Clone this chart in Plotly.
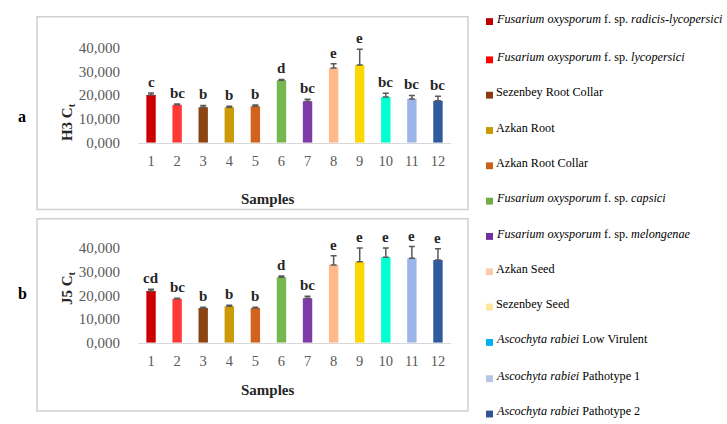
import plotly.graph_objects as go

W, H = 727, 424

samples = [str(i) for i in range(1, 13)]
h3_values = [20100, 16000, 14900, 14900, 15300, 26300, 17400, 31400, 32700, 19200, 18400, 17700]
h3_errors = [800, 300, 800, 400, 600, 300, 900, 1800, 6600, 1600, 1500, 1800]
h3_letters = ["c", "bc", "b", "b", "b", "d", "bc", "e", "e", "bc", "bc", "bc"]

j5_values = [21800, 18500, 14600, 15400, 14600, 27600, 18800, 32800, 34200, 36100, 35600, 34900]
j5_errors = [800, 300, 400, 400, 400, 500, 800, 3900, 5800, 3900, 5000, 4800]
j5_letters = ["cd", "bc", "b", "b", "b", "d", "bc", "e", "e", "e", "e", "e"]

bar_colors = ["#CC0000", "#FF3838", "#8B4513", "#CC9A06", "#D2631C", "#76B74F",
              "#7E3AA8", "#FFB98A", "#FFD700", "#00FFD2", "#9BB5E8", "#2F5A9E"]
legend_colors = ["#C00000", "#FF0000", "#8B3A0F", "#C89A00", "#C8621E", "#70AD47",
                 "#7030A0", "#F8CBAD", "#FFE699", "#00B0F0", "#B4C7E7", "#2F5597"]
legend_labels = [
    "<i>Fusarium oxysporum</i> f. sp. <i>radicis-lycopersici</i>",
    "<i>Fusarium oxysporum</i> f. sp. <i>lycopersici</i>",
    "Sezenbey Root Collar",
    "Azkan Root",
    "Azkan Root Collar",
    "<i>Fusarium oxysporum</i> f. sp. <i>capsici</i>",
    "<i>Fusarium oxysporum</i> f. sp. <i>melongenae</i>",
    "Azkan Seed",
    "Sezenbey Seed",
    "<i>Ascochyta rabiei</i> Low Virulent",
    "<i>Ascochyta rabiei</i> Pathotype 1",
    "<i>Ascochyta rabiei</i> Pathotype 2",
]
ytick_vals = [0, 10000, 20000, 30000, 40000]
ytick_text = ["0,000", "10,000", "20,000", "30,000", "40,000"]

SERIF = "Liberation Serif"


def px_x(p):
    return p / W


def px_y(p):
    return 1 - p / H


fig = go.Figure()

panels = [
    ("x", "y", h3_values, h3_errors, h3_letters),
    ("x2", "y2", j5_values, j5_errors, j5_letters),
]
for xa, ya, vals, errs, letters in panels:
    fig.add_trace(go.Bar(
        x=samples, y=vals, xaxis=xa, yaxis=ya,
        marker=dict(color=bar_colors, line=dict(width=0)),
        error_y=dict(type="data", array=errs, arrayminus=[0] * len(errs), symmetric=False,
                     color="#595959", thickness=1.5, width=3),
        showlegend=False,
    ))
    for i, (v, e, lab) in enumerate(zip(vals, errs, letters)):
        fig.add_annotation(x=i, y=v + e, xref=xa, yref=ya, text="<b>" + lab + "</b>",
                           showarrow=False, yanchor="bottom", yshift=1,
                           font=dict(family=SERIF, size=15, color="#262626"))

xdom = [px_x(138), px_x(451)]
axis_common_x = dict(
    type="category", range=[-0.5, 11.5], showgrid=False, zeroline=False,
    showline=True, linecolor="#D9D9D9", linewidth=1,
    ticks="outside", ticklen=5, tickcolor="rgba(0,0,0,0)",
    tickfont=dict(family=SERIF, size=14.5, color="#595959"),
)
axis_common_y = dict(
    range=[0, 44000], showgrid=False, zeroline=False, showline=False,
    tickvals=ytick_vals, ticktext=ytick_text,
    ticks="outside", ticklen=14, tickcolor="rgba(0,0,0,0)",
    tickfont=dict(family=SERIF, size=15, color="#595959"),
)

fig.update_layout(
    width=W, height=H,
    margin=dict(l=0, r=0, t=0, b=0),
    paper_bgcolor="white", plot_bgcolor="white",
    font=dict(family=SERIF),
    bargap=0.64,
    xaxis=dict(domain=xdom, anchor="y", **axis_common_x),
    yaxis=dict(domain=[px_y(145.5), px_y(145.5 - 97 * 1.1)], anchor="x", **axis_common_y),
    xaxis2=dict(domain=xdom, anchor="y2", **axis_common_x),
    yaxis2=dict(domain=[px_y(349.3), px_y(349.3 - 96.6 * 1.1)], anchor="x2", **axis_common_y),
)

# Panel frames
for top, bottom in [(17, 213.5), (223, 419)]:
    fig.add_shape(type="rect", xref="paper", yref="paper",
                  x0=px_x(37), x1=px_x(468), y0=px_y(bottom), y1=px_y(top),
                  line=dict(color="#D0D0D0", width=1.5), layer="below")

# Axis titles and panel letters
for ytitle, yc, ys, pl, ply in [("H3 C<sub>t</sub>", 103, 203, "a", 108),
                                ("J5 C<sub>t</sub>", 313, 408, "b", 310)]:
    fig.add_annotation(x=px_x(57), y=px_y(yc), xref="paper", yref="paper",
                       text="<b>" + ytitle + "</b>", textangle=-90, showarrow=False,
                       font=dict(family=SERIF, size=15, color="#262626"))
    fig.add_annotation(x=px_x(268), y=px_y(ys), xref="paper", yref="paper",
                       text="<b>Samples</b>", showarrow=False,
                       font=dict(family=SERIF, size=15, color="#262626"))
    fig.add_annotation(x=px_x(16), y=px_y(ply), xref="paper", yref="paper",
                       text="<b>" + pl + "</b>", showarrow=False,
                       font=dict(family=SERIF, size=16, color="#000000"))

# Legend (right side)
legend_y = [19, 58, 94, 130, 166, 202, 238, 274, 310, 346, 383, 419]
for lab, col, yy in zip(legend_labels, legend_colors, legend_y):
    fig.add_shape(type="rect", xref="paper", yref="paper",
                  x0=px_x(486), x1=px_x(493), y0=px_y(yy + 6.5), y1=px_y(yy - 0.5),
                  line=dict(width=0), fillcolor=col)
    fig.add_annotation(x=px_x(494), y=px_y(yy), xref="paper", yref="paper",
                       text=lab, showarrow=False, xanchor="left", yanchor="middle",
                       font=dict(family=SERIF, size=12.2, color="#000000"))

fig.write_html("out.html", config={"displayModeBar": False},
               post_script="document.documentElement.style.margin='0';"
                           "document.body.style.margin='0';document.body.style.overflow='hidden';")
